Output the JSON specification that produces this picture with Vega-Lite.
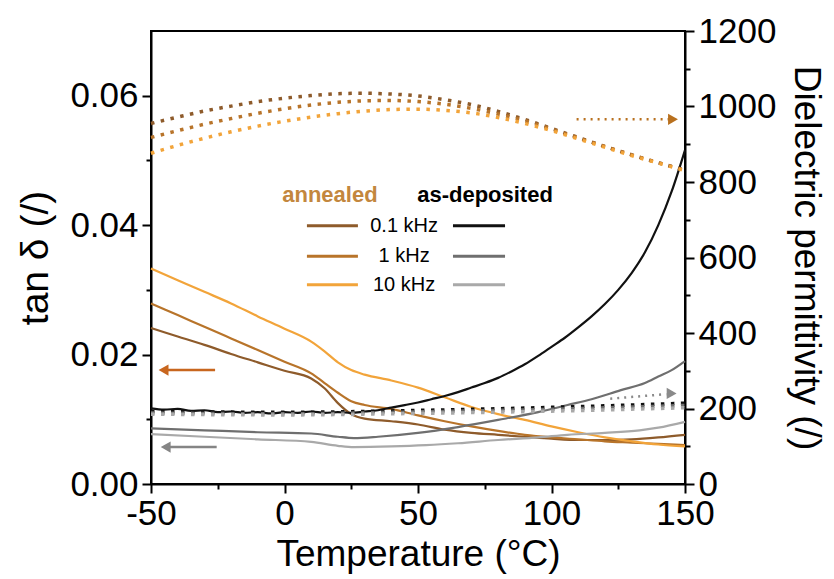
{
  "$schema": "https://vega.github.io/schema/vega-lite/v6.json",
  "autosize": {"type": "none"},
  "padding": {"left": 151, "top": 31, "right": 149, "bottom": 95},
  "width": 534,
  "height": 453,
  "background": "white",
  "config": {
    "view": {"stroke": "black", "strokeWidth": 2},
    "axis": {
      "domainColor": "black", "domainWidth": 2, "tickColor": "black", "tickWidth": 2,
      "labelFont": "Liberation Sans", "labelFontSize": 35, "labelColor": "black",
      "titleFont": "Liberation Sans", "titleFontSize": 37, "titleFontWeight": "normal", "titleColor": "black",
      "grid": false, "labelOverlap": false, "labelFlush": false, "labelBound": false
    },
    "text": {"font": "Liberation Sans"}
  },
  "datasets": {
    "solid": [
      {"s": "an01", "T": -50, "v": 0.0241}, {"s": "an01", "T": -40, "v": 0.0228}, {"s": "an01", "T": -30, "v": 0.0215}, {"s": "an01", "T": -20, "v": 0.0201}, {"s": "an01", "T": -10, "v": 0.0188}, {"s": "an01", "T": 0, "v": 0.0175}, {"s": "an01", "T": 10, "v": 0.0163}, {"s": "an01", "T": 15, "v": 0.0148}, {"s": "an01", "T": 20, "v": 0.0125}, {"s": "an01", "T": 25, "v": 0.0108}, {"s": "an01", "T": 30, "v": 0.0101}, {"s": "an01", "T": 40, "v": 0.0097}, {"s": "an01", "T": 50, "v": 0.0092}, {"s": "an01", "T": 60, "v": 0.0084}, {"s": "an01", "T": 70, "v": 0.0079}, {"s": "an01", "T": 80, "v": 0.0076}, {"s": "an01", "T": 90, "v": 0.0073}, {"s": "an01", "T": 100, "v": 0.0070}, {"s": "an01", "T": 110, "v": 0.0068}, {"s": "an01", "T": 120, "v": 0.0068}, {"s": "an01", "T": 130, "v": 0.0069}, {"s": "an01", "T": 140, "v": 0.0072}, {"s": "an01", "T": 150, "v": 0.0076},
      {"s": "an1", "T": -50, "v": 0.0279}, {"s": "an1", "T": -40, "v": 0.0261}, {"s": "an1", "T": -30, "v": 0.0243}, {"s": "an1", "T": -20, "v": 0.0225}, {"s": "an1", "T": -10, "v": 0.0207}, {"s": "an1", "T": 0, "v": 0.0189}, {"s": "an1", "T": 10, "v": 0.0171}, {"s": "an1", "T": 15, "v": 0.0156}, {"s": "an1", "T": 20, "v": 0.0141}, {"s": "an1", "T": 25, "v": 0.0128}, {"s": "an1", "T": 30, "v": 0.0122}, {"s": "an1", "T": 40, "v": 0.0116}, {"s": "an1", "T": 50, "v": 0.0106}, {"s": "an1", "T": 60, "v": 0.0097}, {"s": "an1", "T": 70, "v": 0.0089}, {"s": "an1", "T": 80, "v": 0.0082}, {"s": "an1", "T": 90, "v": 0.0076}, {"s": "an1", "T": 100, "v": 0.0072}, {"s": "an1", "T": 110, "v": 0.0069}, {"s": "an1", "T": 120, "v": 0.0066}, {"s": "an1", "T": 130, "v": 0.0064}, {"s": "an1", "T": 140, "v": 0.0062}, {"s": "an1", "T": 150, "v": 0.0060},
      {"s": "an10", "T": -50, "v": 0.0333}, {"s": "an10", "T": -40, "v": 0.0315}, {"s": "an10", "T": -30, "v": 0.0297}, {"s": "an10", "T": -20, "v": 0.0279}, {"s": "an10", "T": -10, "v": 0.0259}, {"s": "an10", "T": 0, "v": 0.0240}, {"s": "an10", "T": 10, "v": 0.0220}, {"s": "an10", "T": 15, "v": 0.0205}, {"s": "an10", "T": 20, "v": 0.0188}, {"s": "an10", "T": 25, "v": 0.0176}, {"s": "an10", "T": 30, "v": 0.0169}, {"s": "an10", "T": 40, "v": 0.0160}, {"s": "an10", "T": 50, "v": 0.0149}, {"s": "an10", "T": 60, "v": 0.0134}, {"s": "an10", "T": 70, "v": 0.0119}, {"s": "an10", "T": 80, "v": 0.0108}, {"s": "an10", "T": 90, "v": 0.0099}, {"s": "an10", "T": 100, "v": 0.0089}, {"s": "an10", "T": 110, "v": 0.0080}, {"s": "an10", "T": 120, "v": 0.0072}, {"s": "an10", "T": 130, "v": 0.0066}, {"s": "an10", "T": 140, "v": 0.0061}, {"s": "an10", "T": 150, "v": 0.0058},
      {"s": "as01", "T": -50, "v": 0.0117}, {"s": "as01", "T": -45, "v": 0.0115}, {"s": "as01", "T": -40, "v": 0.0116}, {"s": "as01", "T": -35, "v": 0.0113}, {"s": "as01", "T": -30, "v": 0.0114}, {"s": "as01", "T": -25, "v": 0.0111}, {"s": "as01", "T": -20, "v": 0.0112}, {"s": "as01", "T": -15, "v": 0.0110}, {"s": "as01", "T": -10, "v": 0.0111}, {"s": "as01", "T": -5, "v": 0.0109}, {"s": "as01", "T": 0, "v": 0.0111}, {"s": "as01", "T": 5, "v": 0.0110}, {"s": "as01", "T": 10, "v": 0.0112}, {"s": "as01", "T": 15, "v": 0.0110}, {"s": "as01", "T": 20, "v": 0.0111}, {"s": "as01", "T": 25, "v": 0.0110}, {"s": "as01", "T": 30, "v": 0.0112}, {"s": "as01", "T": 35, "v": 0.0114}, {"s": "as01", "T": 40, "v": 0.0118}, {"s": "as01", "T": 45, "v": 0.0122}, {"s": "as01", "T": 50, "v": 0.0126}, {"s": "as01", "T": 55, "v": 0.0131}, {"s": "as01", "T": 60, "v": 0.0136}, {"s": "as01", "T": 65, "v": 0.0142}, {"s": "as01", "T": 70, "v": 0.0149}, {"s": "as01", "T": 75, "v": 0.0156}, {"s": "as01", "T": 80, "v": 0.0164}, {"s": "as01", "T": 85, "v": 0.0174}, {"s": "as01", "T": 90, "v": 0.0185}, {"s": "as01", "T": 95, "v": 0.0198}, {"s": "as01", "T": 100, "v": 0.0212}, {"s": "as01", "T": 105, "v": 0.0226}, {"s": "as01", "T": 110, "v": 0.0242}, {"s": "as01", "T": 115, "v": 0.0259}, {"s": "as01", "T": 120, "v": 0.0278}, {"s": "as01", "T": 125, "v": 0.0300}, {"s": "as01", "T": 130, "v": 0.0326}, {"s": "as01", "T": 135, "v": 0.0358}, {"s": "as01", "T": 140, "v": 0.0400}, {"s": "as01", "T": 145, "v": 0.0452}, {"s": "as01", "T": 150, "v": 0.0516},
      {"s": "as1", "T": -50, "v": 0.0086}, {"s": "as1", "T": -30, "v": 0.0083}, {"s": "as1", "T": -10, "v": 0.0080}, {"s": "as1", "T": 10, "v": 0.0078}, {"s": "as1", "T": 20, "v": 0.0073}, {"s": "as1", "T": 26, "v": 0.0071}, {"s": "as1", "T": 35, "v": 0.0073}, {"s": "as1", "T": 50, "v": 0.0079}, {"s": "as1", "T": 65, "v": 0.0088}, {"s": "as1", "T": 80, "v": 0.0099}, {"s": "as1", "T": 95, "v": 0.0111}, {"s": "as1", "T": 106, "v": 0.0122}, {"s": "as1", "T": 115, "v": 0.0131}, {"s": "as1", "T": 126, "v": 0.0145}, {"s": "as1", "T": 135, "v": 0.0156}, {"s": "as1", "T": 140, "v": 0.0166}, {"s": "as1", "T": 145, "v": 0.0176}, {"s": "as1", "T": 150, "v": 0.0190},
      {"s": "as10", "T": -50, "v": 0.0077}, {"s": "as10", "T": -30, "v": 0.0073}, {"s": "as10", "T": -10, "v": 0.0069}, {"s": "as10", "T": 10, "v": 0.0065}, {"s": "as10", "T": 20, "v": 0.0059}, {"s": "as10", "T": 26, "v": 0.0057}, {"s": "as10", "T": 40, "v": 0.0058}, {"s": "as10", "T": 53, "v": 0.0060}, {"s": "as10", "T": 65, "v": 0.0063}, {"s": "as10", "T": 80, "v": 0.0068}, {"s": "as10", "T": 95, "v": 0.0072}, {"s": "as10", "T": 106, "v": 0.0076}, {"s": "as10", "T": 120, "v": 0.0079}, {"s": "as10", "T": 133, "v": 0.0083}, {"s": "as10", "T": 140, "v": 0.0087}, {"s": "as10", "T": 150, "v": 0.0096}
    ],
    "dotted": [
      {"s": "an01", "T": -50, "v": 955}, {"s": "an01", "T": -40, "v": 972}, {"s": "an01", "T": -30, "v": 988}, {"s": "an01", "T": -20, "v": 1001}, {"s": "an01", "T": -10, "v": 1013}, {"s": "an01", "T": 0, "v": 1022}, {"s": "an01", "T": 10, "v": 1029}, {"s": "an01", "T": 20, "v": 1034}, {"s": "an01", "T": 30, "v": 1035}, {"s": "an01", "T": 40, "v": 1033}, {"s": "an01", "T": 50, "v": 1028}, {"s": "an01", "T": 60, "v": 1018}, {"s": "an01", "T": 70, "v": 1005}, {"s": "an01", "T": 80, "v": 987}, {"s": "an01", "T": 90, "v": 966}, {"s": "an01", "T": 100, "v": 942}, {"s": "an01", "T": 110, "v": 918}, {"s": "an01", "T": 120, "v": 894}, {"s": "an01", "T": 130, "v": 872}, {"s": "an01", "T": 140, "v": 851}, {"s": "an01", "T": 150, "v": 832},
      {"s": "an1", "T": -50, "v": 918}, {"s": "an1", "T": -40, "v": 936}, {"s": "an1", "T": -30, "v": 953}, {"s": "an1", "T": -20, "v": 968}, {"s": "an1", "T": -10, "v": 982}, {"s": "an1", "T": 0, "v": 994}, {"s": "an1", "T": 10, "v": 1004}, {"s": "an1", "T": 20, "v": 1011}, {"s": "an1", "T": 30, "v": 1015}, {"s": "an1", "T": 40, "v": 1016}, {"s": "an1", "T": 50, "v": 1013}, {"s": "an1", "T": 60, "v": 1006}, {"s": "an1", "T": 70, "v": 995}, {"s": "an1", "T": 80, "v": 980}, {"s": "an1", "T": 90, "v": 962}, {"s": "an1", "T": 100, "v": 940}, {"s": "an1", "T": 110, "v": 917}, {"s": "an1", "T": 120, "v": 894}, {"s": "an1", "T": 130, "v": 872}, {"s": "an1", "T": 140, "v": 851}, {"s": "an1", "T": 150, "v": 831},
      {"s": "an10", "T": -50, "v": 876}, {"s": "an10", "T": -40, "v": 897}, {"s": "an10", "T": -30, "v": 916}, {"s": "an10", "T": -20, "v": 933}, {"s": "an10", "T": -10, "v": 948}, {"s": "an10", "T": 0, "v": 961}, {"s": "an10", "T": 10, "v": 972}, {"s": "an10", "T": 20, "v": 981}, {"s": "an10", "T": 30, "v": 988}, {"s": "an10", "T": 40, "v": 992}, {"s": "an10", "T": 50, "v": 993}, {"s": "an10", "T": 60, "v": 990}, {"s": "an10", "T": 70, "v": 983}, {"s": "an10", "T": 80, "v": 971}, {"s": "an10", "T": 90, "v": 955}, {"s": "an10", "T": 100, "v": 936}, {"s": "an10", "T": 110, "v": 914}, {"s": "an10", "T": 120, "v": 892}, {"s": "an10", "T": 130, "v": 870}, {"s": "an10", "T": 140, "v": 850}, {"s": "an10", "T": 150, "v": 830},
      {"s": "as01", "T": -50, "v": 192}, {"s": "as01", "T": 0, "v": 190}, {"s": "as01", "T": 50, "v": 195}, {"s": "as01", "T": 100, "v": 203}, {"s": "as01", "T": 150, "v": 214},
      {"s": "as1", "T": -50, "v": 188}, {"s": "as1", "T": 0, "v": 186}, {"s": "as1", "T": 50, "v": 191}, {"s": "as1", "T": 100, "v": 198}, {"s": "as1", "T": 150, "v": 208},
      {"s": "as10", "T": -50, "v": 185}, {"s": "as10", "T": 0, "v": 183}, {"s": "as10", "T": 50, "v": 187}, {"s": "as10", "T": 100, "v": 193}, {"s": "as10", "T": 150, "v": 202}
    ],
    "arrowsLeft": [
      {"s": "arrowOrange", "T": -26, "v": 0.0176}, {"s": "arrowOrange", "T": -44, "v": 0.0176},
      {"s": "arrowGray", "T": -25.4, "v": 0.0057}, {"s": "arrowGray", "T": -43, "v": 0.0057}
    ],
    "headsLeft": [
      {"s": "arrowOrange", "T": -45.3, "v": 0.0176},
      {"s": "arrowGray", "T": -44.5, "v": 0.0057}
    ],
    "arrowsRight": [
      {"s": "arrowOrangeDot", "T": 109.4, "v": 966}, {"s": "arrowOrangeDot", "T": 144, "v": 966},
      {"s": "arrowGrayDot", "T": 122, "v": 226}, {"s": "arrowGrayDot", "T": 143, "v": 238}
    ],
    "headsRight": [
      {"s": "arrowOrangeDot", "T": 145.5, "v": 966},
      {"s": "arrowGrayDot", "T": 145, "v": 240}
    ],
    "legendLines": [
      {"s": "an01", "T": 8.4, "v": 0.0399}, {"s": "an01", "T": 27.5, "v": 0.0399},
      {"s": "an1", "T": 8.4, "v": 0.0352}, {"s": "an1", "T": 27.5, "v": 0.0352},
      {"s": "an10", "T": 8.4, "v": 0.0308}, {"s": "an10", "T": 27.5, "v": 0.0308},
      {"s": "as01", "T": 63.1, "v": 0.0399}, {"s": "as01", "T": 82.6, "v": 0.0399},
      {"s": "as1", "T": 63.1, "v": 0.0352}, {"s": "as1", "T": 82.6, "v": 0.0352},
      {"s": "as10", "T": 63.1, "v": 0.0308}, {"s": "as10", "T": 82.6, "v": 0.0308}
    ],
    "legendHeads": [
      {"s": "lblAnnealed", "T": 17.0, "v": 0.0447, "label": "annealed"},
      {"s": "lblBlack", "T": 75.1, "v": 0.0447, "label": "as-deposited"}
    ],
    "legendFreq": [
      {"s": "lblBlack", "T": 44.8, "v": 0.0399, "label": "0.1 kHz"},
      {"s": "lblBlack", "T": 44.8, "v": 0.0352, "label": "1 kHz"},
      {"s": "lblBlack", "T": 44.8, "v": 0.0308, "label": "10 kHz"}
    ]
  },
  "encoding": {
    "x": {
      "field": "T", "type": "quantitative",
      "scale": {"domain": [-50, 150], "nice": false, "zero": false},
      "axis": {
        "title": "Temperature (°C)",
        "values": [-50, -25, 0, 25, 50, 75, 100, 125, 150],
        "labelExpr": "datum.value % 50 === 0 ? '' + datum.value : ''",
        "tickSize": {"condition": {"test": "datum.value % 50 === 0", "value": 9}, "value": 5},
        "labelPadding": 3,
        "titlePadding": 5
      }
    },
    "color": {
      "field": "s", "type": "nominal", "legend": null,
      "scale": {
        "domain": ["an01", "an1", "an10", "as01", "as1", "as10", "arrowOrange", "arrowGray", "arrowOrangeDot", "arrowGrayDot", "lblAnnealed", "lblBlack"],
        "range": ["#8E5B2B", "#B8742A", "#F2A43A", "#111111", "#6F6F6F", "#A9A9A9", "#C8661E", "#858585", "#B8701E", "#8A8A8A", "#C3873E", "#000000"]
      }
    }
  },
  "layer": [
    {
      "encoding": {
        "y": {
          "field": "v", "type": "quantitative",
          "scale": {"domain": [0, 0.07], "nice": false},
          "axis": {
            "orient": "left",
            "title": "tan δ (/)",
            "titleFontSize": 39,
            "values": [0, 0.01, 0.02, 0.03, 0.04, 0.05, 0.06],
            "labelExpr": "round(datum.value * 100) % 2 === 0 ? format(datum.value, '.2f') : ''",
            "tickSize": {"condition": {"test": "round(datum.value * 100) % 2 === 0", "value": 9}, "value": 5},
            "labelPadding": 4,
            "titlePadding": 14
          }
        }
      },
      "layer": [
        {"data": {"name": "solid"}, "mark": {"type": "line", "strokeWidth": 2.2, "interpolate": "monotone"}},
        {"data": {"name": "arrowsLeft"}, "mark": {"type": "line", "strokeWidth": 2.5}},
        {"data": {"name": "headsLeft"}, "mark": {"type": "point", "shape": "triangle-left", "filled": true, "size": 130, "opacity": 1}},
        {"data": {"name": "legendLines"}, "mark": {"type": "line", "strokeWidth": 3}},
        {"data": {"name": "legendHeads"}, "mark": {"type": "text", "fontSize": 22, "fontWeight": "bold", "align": "center", "baseline": "middle"}, "encoding": {"text": {"field": "label"}}},
        {"data": {"name": "legendFreq"}, "mark": {"type": "text", "fontSize": 20, "align": "center", "baseline": "middle"}, "encoding": {"text": {"field": "label"}}}
      ]
    },
    {
      "encoding": {
        "y": {
          "field": "v", "type": "quantitative",
          "scale": {"domain": [0, 1200], "nice": false},
          "axis": {
            "orient": "right",
            "title": "Dielectric permittivity (/)",
            "values": [0, 100, 200, 300, 400, 500, 600, 700, 800, 900, 1000, 1100, 1200],
            "labelExpr": "datum.value % 200 === 0 ? '' + datum.value : ''",
            "tickSize": {"condition": {"test": "datum.value % 200 === 0", "value": 9}, "value": 5},
            "labelPadding": 4,
            "titlePadding": 11
          }
        }
      },
      "layer": [
        {"data": {"name": "dotted"}, "mark": {"type": "line", "strokeWidth": 3.5, "strokeDash": [3.5, 6.5], "interpolate": "monotone"}},
        {"data": {"name": "arrowsRight"}, "mark": {"type": "line", "strokeWidth": 2.5, "strokeDash": [2, 5]}},
        {"data": {"name": "headsRight"}, "mark": {"type": "point", "shape": "triangle-right", "filled": true, "size": 130, "opacity": 1}}
      ]
    }
  ],
  "resolve": {"scale": {"y": "independent"}}
}
